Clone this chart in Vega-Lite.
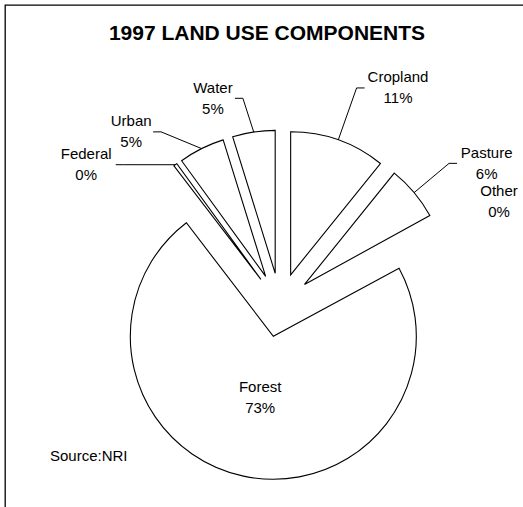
{
  "$schema": "https://vega.github.io/schema/vega-lite/v6.json",
  "width": 518,
  "height": 502,
  "autosize": {"type": "none"},
  "padding": {"left": 5, "top": 5, "right": 0, "bottom": 0},
  "background": "white",
  "config": {
    "view": {"stroke": "black", "strokeWidth": 1.3, "strokeDash": [518, 1020, 502, 0]},
    "font": "Liberation Sans"
  },
  "title": {
    "text": "1997 LAND USE COMPONENTS",
    "font": "Liberation Sans",
    "fontSize": 21,
    "fontWeight": "bold",
    "color": "black",
    "anchor": "middle",
    "frame": "group",
    "orient": "top",
    "offset": 0,
    "baseline": "alphabetic",
    "dx": 3,
    "dy": 56
  },
  "data": {
    "values": [
      {"idx": 1, "category": "Cropland", "share": 10.8, "label": "Cropland\n11%"},
      {"idx": 2, "category": "Pasture", "share": 6.2, "label": "Pasture\n6%"},
      {"idx": 3, "category": "Other", "share": 0.1, "label": "Other\n0%"},
      {"idx": 4, "category": "Forest", "share": 72.5, "label": "Forest\n73%"},
      {"idx": 5, "category": "Federal", "share": 0.4, "label": "Federal\n0%"},
      {"idx": 6, "category": "Urban", "share": 5.2, "label": "Urban\n5%"},
      {"idx": 7, "category": "Water", "share": 4.8, "label": "Water\n5%"}
    ]
  },
  "layer": [
    {
      "encoding": {
        "theta": {"field": "share", "type": "quantitative", "stack": true},
        "order": {"field": "idx", "type": "quantitative"},
        "detail": {"field": "category", "type": "nominal"}
      },
      "layer": [
        {
          "mark": {
            "type": "arc",
            "radius": 143,
            "fill": "white",
            "stroke": "black",
            "strokeWidth": 1.1,
            "xOffset": {"expr": "16 + 32*sin(scale('theta',(datum.share_start+datum.share_end)/2))"},
            "yOffset": {"expr": "49 - 32*cos(scale('theta',(datum.share_start+datum.share_end)/2))"}
          },
          "encoding": {
            "strokeOpacity": {
              "condition": {"test": "datum.category === 'Other'", "value": 0},
              "value": 1
            }
          }
        },
        {
          "mark": {
            "type": "text",
            "radius": 95,
            "font": "Liberation Sans",
            "fontSize": 15,
            "lineBreak": "\n",
            "lineHeight": 21,
            "align": "center",
            "baseline": "middle",
            "color": "black",
            "xOffset": 16,
            "yOffset": 49,
            "dy": -10.5
          },
          "encoding": {
            "text": {"field": "label", "type": "nominal"},
            "opacity": {
              "condition": {"test": "datum.category === 'Forest'", "value": 1},
              "value": 0
            }
          }
        }
      ]
    },
    {
      "transform": [
        {"stack": "share", "groupby": [], "sort": [{"field": "idx", "order": "ascending"}], "offset": "normalize", "as": ["a0", "a1"]}
      ],
      "layer": [
        {
          "mark": {"type": "rule", "stroke": "black", "strokeWidth": 1},
          "encoding": {
            "x": {"value": {"expr": "width/2 + 16 + 175*sin(PI*(datum.a0+datum.a1))"}},
            "y": {"value": {"expr": "height/2 + 49 - 175*cos(PI*(datum.a0+datum.a1))"}},
            "x2": {"value": {"expr": "width/2 + 16 + (PI*(datum.a0+datum.a1) > PI ? 210 : 200 + 32*cos(PI*(datum.a0+datum.a1)))*sin(PI*(datum.a0+datum.a1) > PI ? 1.35*PI*(datum.a0+datum.a1) - 0.7*PI + 0.026 : PI*(datum.a0+datum.a1))"}},
            "y2": {"value": {"expr": "height/2 + 49 - (PI*(datum.a0+datum.a1) > PI ? 210 : 200 + 32*cos(PI*(datum.a0+datum.a1)))*cos(PI*(datum.a0+datum.a1) > PI ? 1.35*PI*(datum.a0+datum.a1) - 0.7*PI + 0.026 : PI*(datum.a0+datum.a1))"}},
            "strokeOpacity": {
              "condition": {"test": "datum.category === 'Forest' || datum.category === 'Other'", "value": 0},
              "value": 1
            }
          }
        },
        {
          "mark": {"type": "rule", "stroke": "black", "strokeWidth": 1},
          "encoding": {
            "x": {"value": {"expr": "width/2 + 16 + (PI*(datum.a0+datum.a1) > PI ? 210 : 200 + 32*cos(PI*(datum.a0+datum.a1)))*sin(PI*(datum.a0+datum.a1) > PI ? 1.35*PI*(datum.a0+datum.a1) - 0.7*PI + 0.026 : PI*(datum.a0+datum.a1))"}},
            "y": {"value": {"expr": "height/2 + 49 - (PI*(datum.a0+datum.a1) > PI ? 210 : 200 + 32*cos(PI*(datum.a0+datum.a1)))*cos(PI*(datum.a0+datum.a1) > PI ? 1.35*PI*(datum.a0+datum.a1) - 0.7*PI + 0.026 : PI*(datum.a0+datum.a1))"}},
            "x2": {"value": {"expr": "width/2 + 16 + (PI*(datum.a0+datum.a1) > PI ? 210 : 200 + 32*cos(PI*(datum.a0+datum.a1)))*sin(PI*(datum.a0+datum.a1) > PI ? 1.35*PI*(datum.a0+datum.a1) - 0.7*PI + 0.026 : PI*(datum.a0+datum.a1)) + (PI*(datum.a0+datum.a1) > PI ? -8 : 8)"}},
            "y2": {"value": {"expr": "height/2 + 49 - (PI*(datum.a0+datum.a1) > PI ? 210 : 200 + 32*cos(PI*(datum.a0+datum.a1)))*cos(PI*(datum.a0+datum.a1) > PI ? 1.35*PI*(datum.a0+datum.a1) - 0.7*PI + 0.026 : PI*(datum.a0+datum.a1))"}},
            "strokeOpacity": {
              "condition": {"test": "datum.category === 'Forest' || datum.category === 'Other'", "value": 0},
              "value": 1
            }
          }
        },
        {
          "mark": {
            "type": "text",
            "font": "Liberation Sans",
            "fontSize": 15,
            "lineBreak": "\n",
            "lineHeight": 21,
            "align": "center",
            "baseline": "middle",
            "color": "black",
            "dy": -10.5
          },
          "encoding": {
            "x": {"value": {"expr": "width/2 + 16 + (PI*(datum.a0+datum.a1) > PI ? 210 : 200 + 32*cos(PI*(datum.a0+datum.a1)))*sin(PI*(datum.a0+datum.a1) > PI ? 1.35*PI*(datum.a0+datum.a1) - 0.7*PI + 0.026 : PI*(datum.a0+datum.a1)) + (PI*(datum.a0+datum.a1) > PI ? -1 : 1)*(11 + 3.8*length(datum.category))"}},
            "y": {"value": {"expr": "height/2 + 49 - (PI*(datum.a0+datum.a1) > PI ? 210 : 200 + 32*cos(PI*(datum.a0+datum.a1)))*cos(PI*(datum.a0+datum.a1) > PI ? 1.35*PI*(datum.a0+datum.a1) - 0.7*PI + 0.026 : PI*(datum.a0+datum.a1))"}},
            "text": {"field": "label", "type": "nominal"},
            "opacity": {
              "condition": {"test": "datum.category === 'Forest'", "value": 0},
              "value": 1
            }
          }
        }
      ]
    },
    {
      "data": {"values": [{"note": "Source:NRI"}]},
      "mark": {
        "type": "text",
        "font": "Liberation Sans",
        "fontSize": 15,
        "align": "left",
        "baseline": "middle",
        "color": "black"
      },
      "encoding": {
        "text": {"field": "note", "type": "nominal"},
        "x": {"value": 45},
        "y": {"value": 451}
      }
    }
  ]
}
